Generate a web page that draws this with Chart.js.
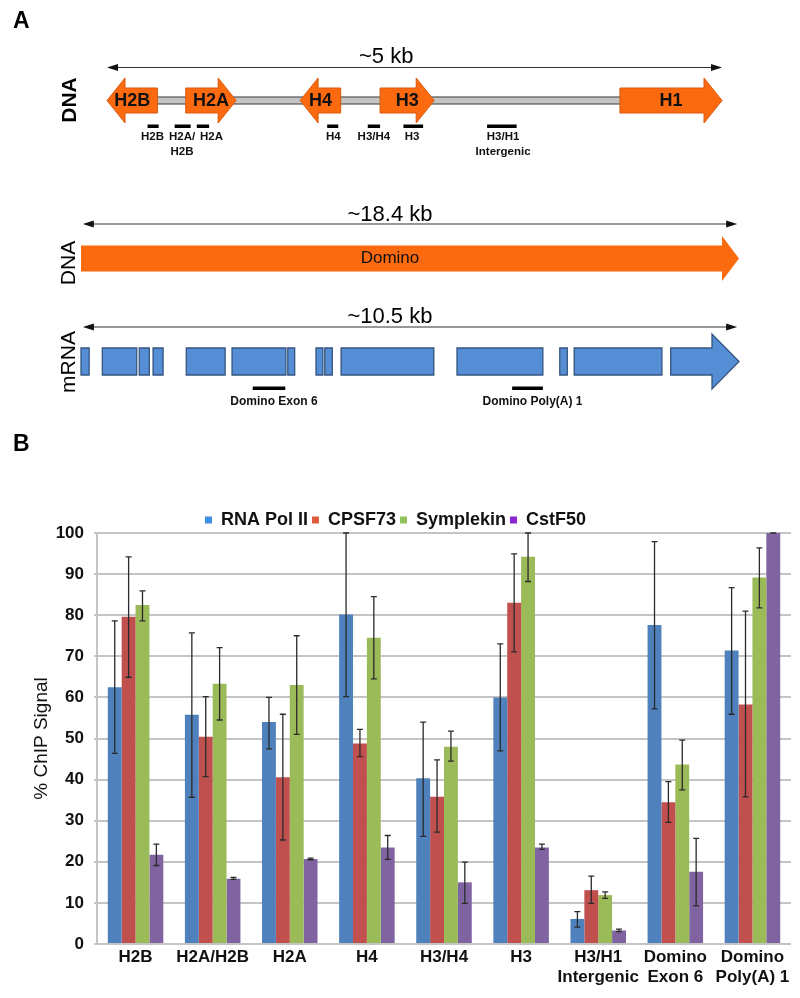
<!DOCTYPE html>
<html>
<head>
<meta charset="utf-8">
<script src="https://cdn.jsdelivr.net/npm/chart.js@4.4.1/dist/chart.umd.min.js"></script>
<style>
  body { margin: 0; background: #fff; }
  canvas { display: block; }
</style>
</head>
<body>
<canvas id="panel-a" width="800" height="470"></canvas>
<canvas id="panel-b" width="800" height="528"></canvas>
<script>
const FONT = "'Liberation Sans', Arial, sans-serif";
Chart.defaults.font.family = FONT;

// ---- Panel A: histone cluster (kb) ----
const histoneGenes = ['H2B', 'H2A', 'H4', 'H3', 'H1'];
const histoneStart = [0, 0.64, 1.57, 2.22, 4.17];
const histoneEnd = [0.41, 1.05, 1.90, 2.66, 5.0];
const histoneStrand = [-1, 1, -1, 1, 1];
const histoneBackbone = [0.05, 4.2];
const histoneAmpLabels = [['H2B'], ['H2A/', 'H2B'], ['H2A'], ['H4'], ['H3/H4'], ['H3'], ['H3/H1', 'Intergenic']];
const histoneAmpStart = [0.33, 0.55, 0.73, 1.79, 2.12, 2.41, 3.09];
const histoneAmpEnd = [0.42, 0.68, 0.83, 1.88, 2.22, 2.57, 3.33];
const histoneAmpLabelAt = [0.37, 0.61, 0.85, 1.84, 2.17, 2.48, 3.22];

// ---- Panel A: Domino gene (kb) and mRNA exons (kb) ----
const dominoGene = [0, 18.4];
const mrnaExonStart = [0.00, 0.34, 0.93, 1.15, 1.68, 2.41, 3.30, 3.75, 3.89, 4.15, 6.00, 7.64, 7.87, 9.41];
const mrnaExonEnd = [0.13, 0.89, 1.09, 1.31, 2.30, 3.27, 3.41, 3.86, 4.01, 5.63, 7.37, 7.76, 9.27, 10.5];
const dominoAmpLabels = ['Domino Exon 6', 'Domino Poly(A) 1'];
const dominoAmpStart = [2.74, 6.88];
const dominoAmpEnd = [3.26, 7.37];

// ---- Panel B: ChIP signal ----
const categories = ['H2B', 'H2A/H2B', 'H2A', 'H4', 'H3/H4', 'H3', ['H3/H1', 'Intergenic'], ['Domino', 'Exon 6'], ['Domino', 'Poly(A) 1']];
const seriesNames = ['RNA Pol II', 'CPSF73', 'Symplekin', 'CstF50'];
const polII   = [62.5, 55.8, 54.0, 80.2, 40.3, 60.0, 6.1, 77.6, 71.4];
const polIILo = [46.4, 35.7, 47.5, 60.2, 26.2, 47.0, 4.1, 57.2, 55.9];
const polIIHi = [78.6, 75.7, 60.0, 100, 54.0, 73.0, 7.9, 97.9, 86.7];
const cpsf73   = [79.6, 50.4, 40.6, 48.8, 35.8, 83.0, 13.1, 34.5, 58.3];
const cpsf73Lo = [64.9, 40.7, 25.3, 45.6, 27.2, 71.1, 9.9, 29.6, 35.8];
const cpsf73Hi = [94.2, 60.2, 55.9, 52.2, 44.8, 94.9, 16.5, 39.5, 81.0];
const symplekin   = [82.5, 63.3, 63.0, 74.5, 48.0, 94.2, 11.9, 43.7, 89.2];
const symplekinLo = [78.6, 54.5, 51.0, 64.5, 44.5, 88.2, 11.1, 37.5, 81.8];
const symplekinHi = [85.9, 72.1, 75.0, 84.5, 51.8, 100, 12.7, 49.6, 96.4];
const cstf50   = [21.7, 15.9, 20.7, 23.5, 15.0, 23.5, 3.3, 17.6, 100];
const cstf50Lo = [19.1, 15.7, 20.5, 20.6, 9.9, 23.0, 3.0, 9.3, 100];
const cstf50Hi = [24.3, 16.2, 20.9, 26.4, 19.9, 24.3, 3.6, 25.7, 100];

const barColors = ['#4f81bd', '#c0504d', '#9bbb59', '#8064a2'];
const legendColors = ['#3d8de0', '#df5a3c', '#8fc45a', '#8a25d1'];

// ---------- Panel A drawing ----------
function arrowPath(ctx, x1, x2, yc, bodyH, headH, headL, dir) {
  ctx.beginPath();
  if (dir > 0) {
    const xb = x2 - headL;
    ctx.moveTo(x1, yc - bodyH / 2);
    ctx.lineTo(xb, yc - bodyH / 2);
    ctx.lineTo(xb, yc - headH / 2);
    ctx.lineTo(x2, yc);
    ctx.lineTo(xb, yc + headH / 2);
    ctx.lineTo(xb, yc + bodyH / 2);
    ctx.lineTo(x1, yc + bodyH / 2);
  } else {
    const xb = x1 + headL;
    ctx.moveTo(x2, yc - bodyH / 2);
    ctx.lineTo(xb, yc - bodyH / 2);
    ctx.lineTo(xb, yc - headH / 2);
    ctx.lineTo(x1, yc);
    ctx.lineTo(xb, yc + headH / 2);
    ctx.lineTo(xb, yc + bodyH / 2);
    ctx.lineTo(x2, yc + bodyH / 2);
  }
  ctx.closePath();
}

function scaleArrow(ctx, x1, x2, y) {
  ctx.strokeStyle = '#333';
  ctx.fillStyle = '#111';
  ctx.lineWidth = 1.2;
  ctx.beginPath();
  ctx.moveTo(x1 + 4, y);
  ctx.lineTo(x2 - 4, y);
  ctx.stroke();
  [[x1, 1], [x2, -1]].forEach(([x, d]) => {
    ctx.beginPath();
    ctx.moveTo(x, y);
    ctx.lineTo(x + d * 11, y - 3.5);
    ctx.lineTo(x + d * 11, y + 3.5);
    ctx.closePath();
    ctx.fill();
  });
}

function rotatedText(ctx, text, x, y, font) {
  ctx.save();
  ctx.translate(x, y);
  ctx.rotate(-Math.PI / 2);
  ctx.font = font;
  ctx.textAlign = 'center';
  ctx.textBaseline = 'middle';
  ctx.fillText(text, 0, 0);
  ctx.restore();
}

const tracksPlugin = {
  id: 'tracks',
  afterDraw(chart) {
    const { ctx } = chart;
    const { xHist, xDom, xMrna, y } = chart.scales;
    const orange = '#fc6a10';
    const orangeEdge = '#d9590f';
    ctx.save();
    ctx.fillStyle = '#000';

    // panel letters
    ctx.font = `bold 23px ${FONT}`;
    ctx.textAlign = 'left';
    ctx.textBaseline = 'middle';
    ctx.fillText('A', 13, y.getPixelForValue(22));
    ctx.fillText('B', 13, y.getPixelForValue(445));

    // --- histone cluster ---
    const yScale1 = y.getPixelForValue(67.5);
    scaleArrow(ctx, xHist.getPixelForValue(0), xHist.getPixelForValue(5), yScale1);
    ctx.fillStyle = '#000';
    ctx.font = `22px ${FONT}`;
    ctx.textAlign = 'center';
    ctx.textBaseline = 'alphabetic';
    ctx.fillText('~5 kb', xHist.getPixelForValue(2.27), y.getPixelForValue(63));
    rotatedText(ctx, 'DNA', 70, y.getPixelForValue(100), `bold 21px ${FONT}`);

    const yc1 = y.getPixelForValue(100.5);
    ctx.fillStyle = '#c4c4c4';
    ctx.strokeStyle = '#555';
    ctx.lineWidth = 1.2;
    const bx1 = xHist.getPixelForValue(histoneBackbone[0]);
    const bx2 = xHist.getPixelForValue(histoneBackbone[1]);
    ctx.fillRect(bx1, yc1 - 3.5, bx2 - bx1, 7);
    ctx.strokeRect(bx1, yc1 - 3.5, bx2 - bx1, 7);

    histoneGenes.forEach((name, i) => {
      const x1 = xHist.getPixelForValue(histoneStart[i]);
      const x2 = xHist.getPixelForValue(histoneEnd[i]);
      arrowPath(ctx, x1, x2, yc1, 25, 45, 18, histoneStrand[i]);
      ctx.fillStyle = orange;
      ctx.fill();
      ctx.strokeStyle = orangeEdge;
      ctx.lineWidth = 1;
      ctx.stroke();
      ctx.fillStyle = '#111';
      ctx.font = `bold 18px ${FONT}`;
      ctx.textAlign = 'center';
      ctx.textBaseline = 'middle';
      ctx.fillText(name, (x1 + x2) / 2, yc1 + 1);
    });

    histoneAmpLabels.forEach((lines, i) => {
      const x1 = xHist.getPixelForValue(histoneAmpStart[i]);
      const x2 = xHist.getPixelForValue(histoneAmpEnd[i]);
      ctx.fillStyle = '#000';
      ctx.fillRect(x1, y.getPixelForValue(124.5), x2 - x1, 3.5);
      ctx.font = `bold 11.5px ${FONT}`;
      ctx.textAlign = 'center';
      ctx.textBaseline = 'middle';
      ctx.fillStyle = '#111';
      lines.forEach((t, k) => {
        ctx.fillText(t, xHist.getPixelForValue(histoneAmpLabelAt[i]), y.getPixelForValue(136.5 + k * 15));
      });
    });

    // --- Domino DNA ---
    scaleArrow(ctx, xDom.getPixelForValue(0.05), xDom.getPixelForValue(18.35), y.getPixelForValue(224));
    ctx.fillStyle = '#000';
    ctx.font = `22px ${FONT}`;
    ctx.textAlign = 'center';
    ctx.textBaseline = 'alphabetic';
    ctx.fillText('~18.4 kb', xDom.getPixelForValue(8.64), y.getPixelForValue(221));
    rotatedText(ctx, 'DNA', 69, y.getPixelForValue(263), `21px ${FONT}`);

    const yc2 = y.getPixelForValue(258.5);
    arrowPath(ctx, xDom.getPixelForValue(dominoGene[0]), xDom.getPixelForValue(dominoGene[1]), yc2, 26, 45, 17, 1);
    ctx.fillStyle = orange;
    ctx.fill();
    ctx.fillStyle = '#111';
    ctx.font = `17px ${FONT}`;
    ctx.textBaseline = 'middle';
    ctx.fillText('Domino', xDom.getPixelForValue(8.64), yc2);

    // --- Domino mRNA ---
    scaleArrow(ctx, xMrna.getPixelForValue(0.03), xMrna.getPixelForValue(10.47), y.getPixelForValue(327));
    ctx.fillStyle = '#000';
    ctx.font = `22px ${FONT}`;
    ctx.textBaseline = 'alphabetic';
    ctx.fillText('~10.5 kb', xMrna.getPixelForValue(4.93), y.getPixelForValue(323));
    rotatedText(ctx, 'mRNA', 69, y.getPixelForValue(362), `21px ${FONT}`);

    const yc3 = y.getPixelForValue(361.5);
    mrnaExonStart.forEach((s, i) => {
      const x1 = xMrna.getPixelForValue(s);
      const x2 = xMrna.getPixelForValue(mrnaExonEnd[i]);
      if (i === mrnaExonStart.length - 1) {
        arrowPath(ctx, x1, x2, yc3, 27, 55, 27, 1);
      } else {
        ctx.beginPath();
        ctx.rect(x1, yc3 - 13.5, x2 - x1, 27);
      }
      ctx.fillStyle = '#558ed5';
      ctx.fill();
      ctx.strokeStyle = '#34557f';
      ctx.lineWidth = 1.3;
      ctx.stroke();
    });

    dominoAmpLabels.forEach((t, i) => {
      const x1 = xMrna.getPixelForValue(dominoAmpStart[i]);
      const x2 = xMrna.getPixelForValue(dominoAmpEnd[i]);
      ctx.fillStyle = '#000';
      ctx.fillRect(x1, y.getPixelForValue(386.5), x2 - x1, 3.5);
      ctx.fillStyle = '#111';
      ctx.font = `bold 12px ${FONT}`;
      ctx.textAlign = 'center';
      ctx.textBaseline = 'middle';
      ctx.fillText(t, (x1 + x2) / 2 + 5, y.getPixelForValue(402));
    });

    ctx.restore();
  }
};

new Chart(document.getElementById('panel-a'), {
  type: 'scatter',
  data: { datasets: [] },
  options: {
    responsive: false,
    animation: false,
    layout: { padding: { left: 81, right: 61, top: 0, bottom: 0 } },
    plugins: { legend: { display: false }, tooltip: { enabled: false } },
    scales: {
      xHist: { type: 'linear', axis: 'x', display: false, min: -0.2114, max: 5.138 },
      xDom: { type: 'linear', axis: 'x', display: false, min: 0, max: 18.4 },
      xMrna: { type: 'linear', axis: 'x', display: false, min: 0, max: 10.5 },
      y: { type: 'linear', display: false, min: 0, max: 470, reverse: true }
    }
  },
  plugins: [tracksPlugin]
});

// ---------- Panel B ----------
const errorBarsPlugin = {
  id: 'errorBars',
  afterDatasetsDraw(chart) {
    const { ctx } = chart;
    const yScale = chart.scales.y;
    ctx.save();
    ctx.strokeStyle = '#2b2b2b';
    ctx.lineWidth = 1.3;
    chart.data.datasets.forEach((ds, i) => {
      chart.getDatasetMeta(i).data.forEach((bar, j) => {
        const yLo = yScale.getPixelForValue(ds.errLo[j]);
        const yHi = yScale.getPixelForValue(ds.errHi[j]);
        ctx.beginPath();
        ctx.moveTo(bar.x, yLo);
        ctx.lineTo(bar.x, yHi);
        ctx.moveTo(bar.x - 3, yLo);
        ctx.lineTo(bar.x + 3, yLo);
        ctx.moveTo(bar.x - 3, yHi);
        ctx.lineTo(bar.x + 3, yHi);
        ctx.stroke();
      });
    });
    ctx.restore();
  }
};

const legendFitPlugin = {
  id: 'legendFit',
  beforeInit(chart) {
    const legend = chart.legend;
    if (!legend) return;
    const fit = legend.fit;
    legend.fit = function () {
      fit.call(this);
      this.height -= 6;
    };
  }
};

const series = [
  [polII, polIILo, polIIHi],
  [cpsf73, cpsf73Lo, cpsf73Hi],
  [symplekin, symplekinLo, symplekinHi],
  [cstf50, cstf50Lo, cstf50Hi]
];

new Chart(document.getElementById('panel-b'), {
  type: 'bar',
  data: {
    labels: categories,
    datasets: series.map(([vals, lo, hi], i) => ({
      label: seriesNames[i],
      data: vals,
      errLo: lo,
      errHi: hi,
      backgroundColor: barColors[i],
      borderWidth: 0,
      categoryPercentage: 0.72,
      barPercentage: 1
    }))
  },
  options: {
    responsive: false,
    animation: false,
    layout: { padding: { left: 0, right: 9, top: 37, bottom: 0 } },
    plugins: {
      tooltip: { enabled: false },
      legend: {
        position: 'top',
        labels: {
          boxWidth: 7,
          boxHeight: 7,
          padding: 4,
          color: '#111',
          font: { family: FONT, size: 18, weight: 'bold' },
          generateLabels(chart) {
            return Chart.defaults.plugins.legend.labels.generateLabels(chart).map((item, i) => ({
              ...item,
              fillStyle: legendColors[i],
              strokeStyle: legendColors[i],
              lineWidth: 0
            }));
          }
        }
      }
    },
    scales: {
      x: {
        grid: { display: false, drawTicks: false },
        border: { display: false },
        ticks: {
          color: '#111',
          font: { family: FONT, size: 17, weight: 'bold' },
          padding: 3,
          maxRotation: 0,
          autoSkip: false
        },
        afterFit(scale) { scale.height = 54; }
      },
      y: {
        min: 0,
        max: 100,
        ticks: {
          stepSize: 10,
          color: '#111',
          padding: 10,
          font: { family: FONT, size: 17, weight: 'bold' }
        },
        grid: { color: '#c4c4c4', lineWidth: 2, tickLength: 3 },
        border: { color: '#c4c4c4', width: 2 },
        title: {
          display: true,
          text: '% ChIP Signal',
          color: '#111',
          font: { family: FONT, size: 19 },
          padding: { top: 30, bottom: 0 }
        },
        afterFit(scale) { scale.width = 97; }
      }
    }
  },
  plugins: [errorBarsPlugin, legendFitPlugin]
});
</script>
</body>
</html>
